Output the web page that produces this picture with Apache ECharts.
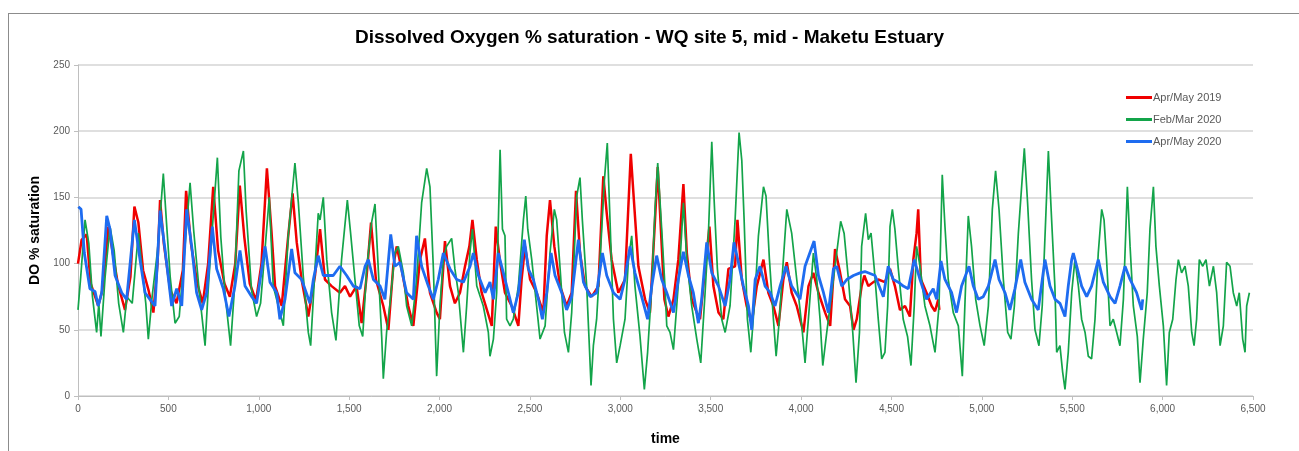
<!DOCTYPE html>
<html><head><meta charset="utf-8">
<script src="https://cdn.jsdelivr.net/npm/echarts@6/dist/echarts.min.js"></script>
<style>
html,body{margin:0;padding:0;background:#fff;}
#frame{position:absolute;left:8px;top:13px;width:1300px;height:460px;border-top:1px solid #8c8c8c;border-left:1px solid #8c8c8c;}
#chart{position:absolute;left:0;top:0;width:1299px;height:451px;}
</style></head>
<body>
<div id="frame"></div>
<div id="chart"></div>
<script>
const seriesNames = ['Apr/May 2019', 'Feb/Mar 2020', 'Apr/May 2020'];
const xTicks = [0,500,1000,1500,2000,2500,3000,3500,4000,4500,5000,5500,6000,6500];
const yTicks = [0,50,100,150,200,250];

const redT = [0,20,48,70,112,135,168,190,220,260,290,312,334,360,390,417,440,454,475,510,545,580,598,625,660,690,720,748,775,810,840,870,895,920,950,985,1015,1045,1070,1090,1127,1163,1187,1210,1237,1274,1311,1339,1366,1403,1449,1477,1505,1541,1569,1597,1621,1648,1689,1717,1744,1763,1790,1827,1855,1892,1919,1947,1984,2002,2030,2058,2085,2113,2141,2165,2182,2206,2233,2289,2311,2335,2362,2399,2436,2454,2473,2501,2537,2574,2593,2611,2635,2667,2703,2731,2755,2777,2805,2842,2879,2906,2925,2952,2989,3026,3058,3076,3100,3137,3164,3192,3207,3220,3244,3266,3294,3321,3349,3368,3395,3423,3441,3469,3493,3515,3543,3570,3598,3635,3648,3672,3699,3727,3755,3792,3819,3847,3875,3902,3921,3948,3976,4013,4041,4068,4096,4133,4161,4188,4216,4243,4271,4290,4308,4335,4350,4372,4400,4427,4464,4492,4519,4547,4575,4602,4621,4639,4648,4663,4694,4722,4741,4759,4765];
const redV = [100,118,122,85,68,80,128,110,85,65,90,143,131,95,80,63,100,148,115,80,70,95,155,115,85,70,100,158,110,85,75,100,159,120,85,72,100,172,125,83,68,121,153,116,88,60,91,126,88,83,78,83,75,83,55,91,131,88,68,50,98,113,96,68,53,103,119,78,63,58,117,83,70,78,98,113,133,103,78,53,128,101,78,68,53,88,113,88,78,63,121,148,113,83,68,78,155,108,83,75,83,166,138,103,78,88,183,146,98,73,63,133,173,138,73,60,73,103,160,108,73,63,58,96,128,83,63,58,96,98,133,88,68,55,83,103,78,68,53,88,101,78,68,48,83,93,78,63,53,111,93,73,68,50,58,83,91,83,86,88,86,96,83,65,68,60,103,123,141,88,78,68,64,73,65];

const greenT = [0,15,39,60,80,103,115,127,150,177,200,225,251,270,300,334,355,375,389,410,440,472,490,510,537,560,590,620,640,670,703,720,745,771,790,815,844,865,890,915,930,960,988,1010,1040,1058,1080,1136,1163,1200,1219,1246,1274,1287,1311,1329,1339,1357,1376,1403,1427,1458,1490,1508,1532,1556,1575,1597,1624,1643,1661,1680,1689,1707,1726,1753,1772,1800,1818,1846,1873,1901,1929,1947,1966,1984,2002,2021,2039,2067,2085,2104,2132,2150,2168,2182,2206,2242,2270,2279,2298,2316,2335,2348,2362,2371,2390,2408,2436,2464,2477,2488,2510,2537,2556,2584,2611,2635,2648,2667,2691,2713,2731,2759,2777,2790,2814,2827,2838,2851,2869,2888,2912,2928,2943,2962,2980,2999,3026,3045,3063,3081,3109,3133,3151,3174,3192,3207,3229,3247,3257,3275,3294,3312,3331,3349,3368,3395,3423,3445,3469,3487,3506,3519,3537,3561,3580,3607,3635,3657,3672,3685,3703,3722,3746,3764,3792,3806,3825,3847,3862,3880,3902,3921,3948,3976,4004,4022,4046,4068,4087,4105,4120,4142,4170,4197,4219,4238,4262,4286,4304,4323,4335,4357,4372,4387,4405,4427,4446,4464,4479,4492,4505,4519,4538,4565,4589,4608,4626,4639,4658,4685,4713,4741,4763,4781,4796,4814,4842,4870,4892,4910,4925,4943,4966,4990,5013,5036,5058,5076,5095,5119,5143,5161,5180,5202,5235,5253,5275,5294,5316,5334,5353,5368,5386,5404,5414,5432,5447,5460,5478,5497,5515,5534,5552,5571,5589,5607,5626,5644,5663,5676,5690,5709,5727,5746,5764,5783,5805,5820,5838,5860,5875,5893,5915,5930,5949,5963,5982,6004,6022,6037,6056,6074,6087,6105,6124,6142,6161,6174,6188,6203,6222,6240,6259,6281,6299,6318,6336,6354,6373,6391,6410,6424,6443,6456,6465,6480];
const greenV = [65,90,133,115,75,48,70,45,90,128,110,70,48,75,70,123,95,70,43,75,110,168,130,90,55,60,110,161,125,80,38,80,130,180,120,75,38,80,170,185,140,80,60,70,120,150,83,53,121,176,146,91,48,38,96,138,133,150,103,63,42,103,148,123,88,53,45,96,131,145,96,45,13,48,70,108,113,93,68,53,88,146,172,158,96,15,68,103,113,119,96,78,33,68,108,126,83,68,48,30,43,78,186,126,121,58,53,58,83,133,151,126,103,68,43,53,108,141,133,96,48,33,63,151,165,133,83,43,8,38,58,103,163,191,133,58,25,38,58,103,121,83,45,5,33,83,141,176,126,83,53,48,35,68,103,146,103,68,43,25,78,121,192,148,96,58,48,68,133,199,178,133,58,33,78,121,158,151,103,58,30,58,103,141,123,88,53,25,68,108,88,58,23,48,78,108,132,123,88,48,10,48,113,138,118,123,96,58,28,33,68,128,141,126,96,58,45,23,68,113,98,68,53,33,68,167,128,88,63,53,15,83,136,113,73,53,38,68,141,170,141,88,48,43,68,123,187,146,88,50,38,68,133,185,133,83,33,38,18,5,33,78,103,83,58,48,30,28,58,108,141,133,103,53,58,48,38,73,158,113,68,45,10,43,78,126,158,113,83,53,8,48,58,88,103,93,98,83,48,38,58,103,98,103,83,98,78,38,53,101,98,78,68,78,43,33,68,78];

const blueT = [2,17,35,66,94,112,131,159,177,205,242,269,312,343,371,398,426,454,481,518,546,574,601,629,656,684,712,743,767,804,835,868,896,924,961,988,1035,1062,1099,1117,1145,1182,1200,1237,1283,1302,1329,1357,1412,1449,1486,1523,1560,1588,1606,1634,1671,1698,1730,1753,1781,1818,1855,1873,1901,1938,1966,1993,2021,2058,2095,2132,2169,2187,2215,2252,2279,2298,2325,2353,2381,2408,2436,2469,2491,2519,2547,2569,2593,2617,2639,2676,2703,2731,2768,2796,2833,2869,2901,2925,2962,2999,3022,3054,3081,3118,3151,3174,3201,3229,3257,3294,3321,3349,3377,3404,3432,3450,3478,3506,3543,3580,3607,3629,3653,3681,3709,3727,3746,3773,3801,3829,3856,3884,3917,3948,3994,4022,4072,4096,4124,4151,4179,4197,4225,4253,4290,4326,4353,4409,4455,4482,4510,4538,4565,4593,4626,4658,4694,4731,4750,4774,4796,4833,4860,4888,4929,4953,4980,5008,5036,5073,5095,5128,5155,5183,5215,5238,5275,5312,5349,5377,5405,5432,5460,5478,5497,5506,5525,5552,5580,5607,5644,5672,5709,5737,5764,5792,5820,5856,5884,5890];
const blueV = [143,141,108,81,79,68,78,136,126,91,78,73,133,103,78,73,68,140,111,68,81,68,141,113,78,65,78,128,96,81,60,83,110,83,75,70,113,86,78,58,73,111,93,88,70,88,106,91,91,98,91,83,81,98,103,88,83,73,122,98,101,78,73,121,98,83,73,88,108,96,88,86,98,108,91,78,86,73,108,93,78,63,78,118,96,88,73,58,78,108,91,78,65,75,118,86,75,78,108,91,78,73,86,113,93,75,58,83,106,88,78,63,88,109,91,78,55,73,116,93,83,68,88,116,101,83,68,50,88,98,83,78,68,83,98,83,73,98,117,91,78,63,96,98,83,88,91,93,94,91,75,98,88,86,83,81,103,88,73,81,73,102,88,78,63,83,98,83,73,75,83,103,88,78,65,81,103,86,73,65,103,83,73,70,60,83,103,108,98,83,75,83,103,86,75,70,83,98,88,78,65,73];

function pairs(t, v) { return t.map((x, i) => [x, v[i]]); }

const chart = echarts.init(document.getElementById('chart'), null, {renderer: 'canvas'});
const fontFam = '"Liberation Sans", Arial, sans-serif';
chart.setOption({
  animation: false,
  backgroundColor: 'transparent',
  title: {
    text: 'Dissolved Oxygen % saturation - WQ site 5, mid - Maketu Estuary',
    left: 'center', top: 23,
    textStyle: {fontFamily: fontFam, fontWeight: 'bold', fontSize: 19, color: '#000'}
  },
  legend: {
    orient: 'vertical', left: 1121, top: 87, itemWidth: 26, itemHeight: 3, itemGap: 11,
    icon: 'rect',
    data: seriesNames,
    textStyle: {fontFamily: fontFam, fontSize: 11, color: '#595959', padding: [0,0,0,-4]}
  },
  grid: {left: 78, right: 46, top: 65, bottom: 54},
  xAxis: {
    type: 'value', min: 0, max: 6500, interval: 500,
    name: 'time', nameLocation: 'middle', nameGap: 36,
    nameTextStyle: {fontFamily: fontFam, fontWeight: 'bold', fontSize: 14, color: '#000'},
    axisLine: {show: true, lineStyle: {color: '#bfbfbf', width: 1}},
    axisTick: {show: true, length: 4, lineStyle: {color: '#bfbfbf'}},
    axisLabel: {fontFamily: fontFam, fontSize: 10, color: '#595959', margin: 8,
      formatter: v => v.toLocaleString('en-US')},
    splitLine: {show: false}
  },
  yAxis: {
    type: 'value', min: 0, max: 250, interval: 50,
    name: 'DO % saturation', nameLocation: 'middle', nameGap: 31,
    nameTextStyle: {fontFamily: fontFam, fontWeight: 'bold', fontSize: 14, color: '#000'},
    axisLine: {show: true, lineStyle: {color: '#bfbfbf', width: 1}},
    axisTick: {show: true, length: 4, lineStyle: {color: '#bfbfbf'}},
    axisLabel: {fontFamily: fontFam, fontSize: 10, color: '#595959', margin: 8},
    splitLine: {show: true, lineStyle: {color: '#d4d4d4', width: 1.5}}
  },
  series: [
    {name: seriesNames[0], type: 'line', showSymbol: false, symbol: 'none',
     data: pairs(redT, redV), color: '#f00000', lineStyle: {width: 2.5, color: '#f00000'}},
    {name: seriesNames[1], type: 'line', showSymbol: false, symbol: 'none',
     data: pairs(greenT, greenV), color: '#13a44a', lineStyle: {width: 1.7, color: '#13a44a'}},
    {name: seriesNames[2], type: 'line', showSymbol: false, symbol: 'none',
     data: pairs(blueT, blueV), color: '#1e6cf0', lineStyle: {width: 2.8, color: '#1e6cf0'}}
  ]
});
</script>
</body></html>
